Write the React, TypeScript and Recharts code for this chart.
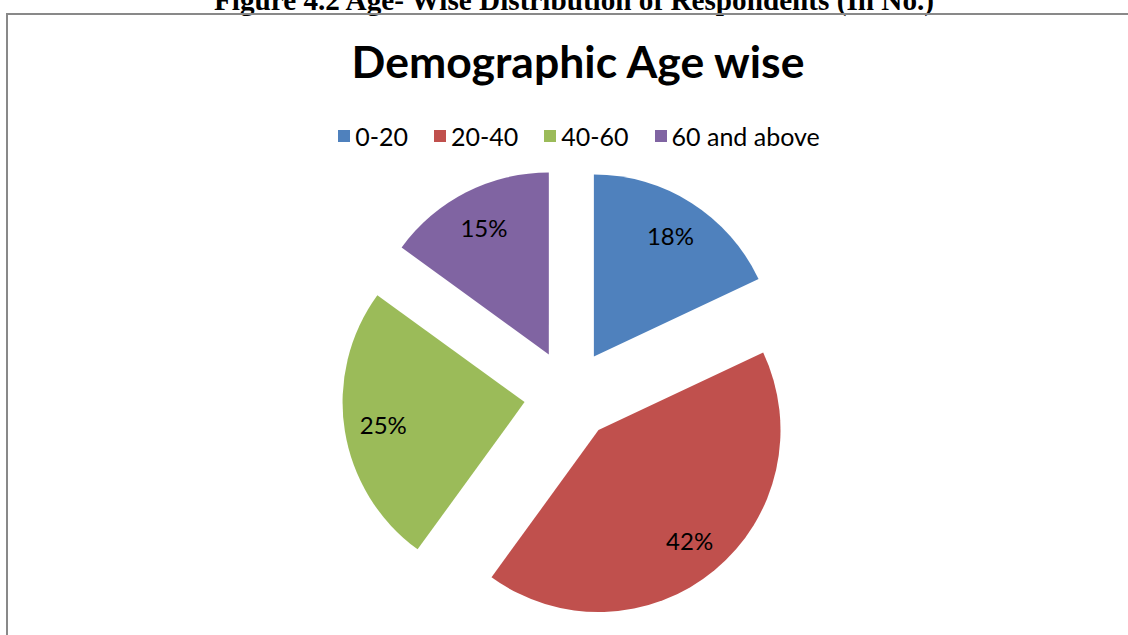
import React from 'react';
import { PieChart, Pie, Cell, Sector, Legend } from 'recharts';

const categories = ['0-20', '20-40', '40-60', '60 and above'];
const values = [18, 42, 25, 15];
const colors = ['#4F81BD', '#C0504D', '#9BBB59', '#8064A2'];
const captionText = 'Figure 4.2 Age- Wise Distribution of Respondents (In No.)';
const titleText = 'Demographic Age wise';

const data = categories.map((name, i) => ({ name, value: values[i] }));

const RAD = Math.PI / 180;
const EXPLODE = 45.5;
const LABEL_R = 143;

const ExplodedSector = (props: any) => {
  const { cx, cy, midAngle } = props;
  const dx = EXPLODE * Math.cos(-midAngle * RAD);
  const dy = EXPLODE * Math.sin(-midAngle * RAD);
  return (
    <Sector
      cx={cx + dx}
      cy={cy + dy}
      innerRadius={props.innerRadius}
      outerRadius={props.outerRadius}
      startAngle={props.startAngle}
      endAngle={props.endAngle}
      fill={props.fill}
      stroke="none"
    />
  );
};

const renderLabel = (p: any) => {
  const r = EXPLODE + LABEL_R;
  const x = p.cx + r * Math.cos(-p.midAngle * RAD);
  const y = p.cy + r * Math.sin(-p.midAngle * RAD);
  return (
    <text
      x={x}
      y={y}
      textAnchor="middle"
      dominantBaseline="central"
      fill="#000"
      fontFamily="Lato"
      fontSize={24}
    >
      {`${Math.round(p.percent * 100)}%`}
    </text>
  );
};

const renderLegend = (props: any) => {
  const payload = props.payload || [];
  return (
    <div
      style={{
        display: 'flex',
        justifyContent: 'center',
        alignItems: 'center',
        fontFamily: 'Lato',
        fontSize: 25,
        color: '#000',
        paddingLeft: 30,
      }}
    >
      {payload.map((entry: any, i: number) => (
        <div
          key={i}
          style={{
            display: 'flex',
            alignItems: 'center',
            marginRight: i < payload.length - 1 ? 26 : 0,
          }}
        >
          <span
            style={{
              display: 'inline-block',
              width: 12,
              height: 12,
              background: entry.color,
              marginRight: 5,
            }}
          />
          <span style={{ lineHeight: '24px' }}>{entry.value}</span>
        </div>
      ))}
    </div>
  );
};

export default function App() {
  return (
    <div
      style={{
        position: 'absolute',
        left: 0,
        top: 0,
        width: 1128,
        height: 635,
        overflow: 'hidden',
        background: '#fff',
      }}
    >
      <svg
        width={1128}
        height={635}
        style={{ position: 'absolute', left: 0, top: 0 }}
      >
        <text
          x={574}
          y={10}
          textAnchor="middle"
          fontFamily="Liberation Serif"
          fontWeight="bold"
          fontSize={29.2}
          fill="#000"
        >
          {captionText}
        </text>
        <rect
          x={7}
          y={14}
          width={1140}
          height={660}
          fill="none"
          stroke="#898989"
          strokeWidth={2}
        />
        <text
          x={578}
          y={78}
          textAnchor="middle"
          fontFamily="Lato"
          fontWeight="bold"
          fontSize={44.5}
          fill="#000"
        >
          {titleText}
        </text>
      </svg>
      <div style={{ position: 'absolute', left: 0, top: 0 }}>
        <PieChart width={1128} height={635} margin={{ top: 0, right: 0, bottom: 0, left: 0 }}>
          <Legend
            layout="horizontal"
            verticalAlign="middle"
            align="center"
            content={renderLegend}
            wrapperStyle={{ position: 'absolute', top: 124, left: 0, width: 1128 }}
          />
          <Pie
            data={data}
            dataKey="value"
            nameKey="name"
            cx={569.5}
            cy={395}
            outerRadius={182}
            startAngle={90}
            endAngle={-270}
            stroke="none"
            isAnimationActive={false}
            label={renderLabel}
            labelLine={false}
            inactiveShape={ExplodedSector}
            activeShape={ExplodedSector}
            shape={ExplodedSector}
          >
            {data.map((d, i) => (
              <Cell key={d.name} fill={colors[i]} />
            ))}
          </Pie>
        </PieChart>
      </div>
    </div>
  );
}
